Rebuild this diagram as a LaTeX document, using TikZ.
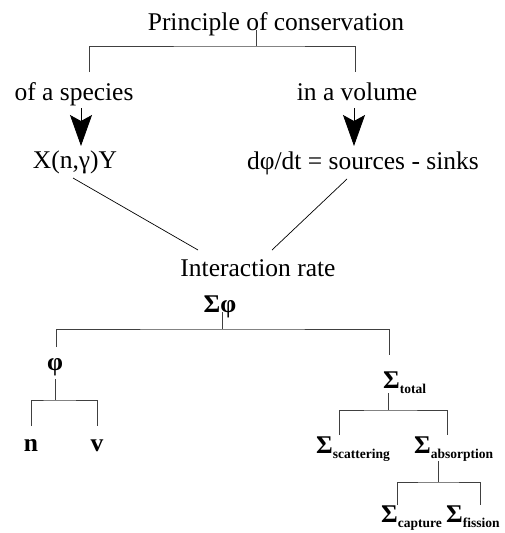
\documentclass[tikz,border=0pt]{standalone}
\usepackage{fontspec}
\setmainfont{Liberation Serif}
\usetikzlibrary{arrows.meta}

\tikzset{
  lbl/.style={inner sep=0pt, anchor=base, font=\fontsize{25.5}{30}\selectfont},
  blbl/.style={lbl, font=\fontsize{25.5}{30}\selectfont\bfseries},
  sig/.style={blbl, anchor=base west},
  tree/.style={line width=0.8pt, draw=black!75},
  diag/.style={line width=0.7pt, draw=black},
  bigarrow/.style={line width=0.8pt, -{Stealth[length=31pt,width=22pt,inset=6pt]}},
}
% subscript of a Sigma label
\newcommand{\sgsub}[1]{\raisebox{-5.5pt}{\fontsize{13.5}{14}\selectfont\bfseries #1}}

\begin{document}
\begin{tikzpicture}[x=1pt,y=-1pt]
  \useasboundingbox (0,0) rectangle (505,533);

  % upper part: principle of conservation
  \node[lbl] (title) at (276,30) {Principle of conservation};
  \node[lbl] (spec)  at (74,100)  {of a species};
  \node[lbl] (vol)   at (357,100) {in a volume};
  \node[lbl] (xny)   at (75,168)  {X(n,γ)Y};
  \node[lbl] (dphi)  at (363,169) {dφ/dt = sources - sinks};
  \node[lbl] (rate)  at (258,276) {Interaction rate};
  \node[blbl] (sphi) at (220,312) {Σφ};

  % lower part: flux and cross sections
  \node[blbl] (phi) at (55,370) {φ};
  \node[blbl] (n)   at (31,451) {n};
  \node[blbl] (v)   at (97,451) {v};
  \node[sig] (tot)  at (383,388) {Σ\sgsub{total}};
  \node[sig] (scat) at (316,453) {Σ\sgsub{scattering}};
  \node[sig] (abs)  at (414,453) {Σ\sgsub{absorption}};
  \node[sig] (capt) at (381,522) {Σ\sgsub{capture}};
  \node[sig] (fis)  at (446,522) {Σ\sgsub{fission}};

  % branch points
  \coordinate (t0) at (256,46);
  \coordinate (tL) at (89,72);
  \coordinate (tR) at (355,72);
  \coordinate (s0) at (222,329);
  \coordinate (sL) at (56,347);
  \coordinate (sR) at (389,355);
  \coordinate (p0) at (55,400);
  \coordinate (pL) at (31,426);
  \coordinate (pR) at (97,426);
  \coordinate (o0) at (388,410);
  \coordinate (oL) at (339,435);
  \coordinate (oR) at (447,435);
  \coordinate (b0) at (438,482);
  \coordinate (bL) at (397,505);
  \coordinate (bR) at (480,505);

  % tree connectors
  \draw[tree] (t0 |- title.base) -- (t0);
  \draw[tree] (tL) |- (t0) -| (tR);
  \draw[tree] (s0 |- sphi.base) -- (s0);
  \draw[tree] (sL) |- (s0) -| (sR);
  \draw[tree] (p0 |- 0,379) -- (p0);
  \draw[tree] (pL) |- (p0) -| (pR);
  \draw[tree] (o0 |- 0,393) -- (o0);
  \draw[tree] (oL) |- (o0) -| (oR);
  \draw[tree] (b0 |- 0,461) -- (b0);
  \draw[tree] (bL) |- (b0) -| (bR);

  % arrows to the two formulations
  \draw[bigarrow] (81,108) -- (81,146);
  \draw[bigarrow] (354,108) -- (354,146);

  % both lead to the interaction rate
  \draw[diag] (73,178) -- (198,250);
  \draw[diag] (347,179) -- (272,250);
\end{tikzpicture}
\end{document}
